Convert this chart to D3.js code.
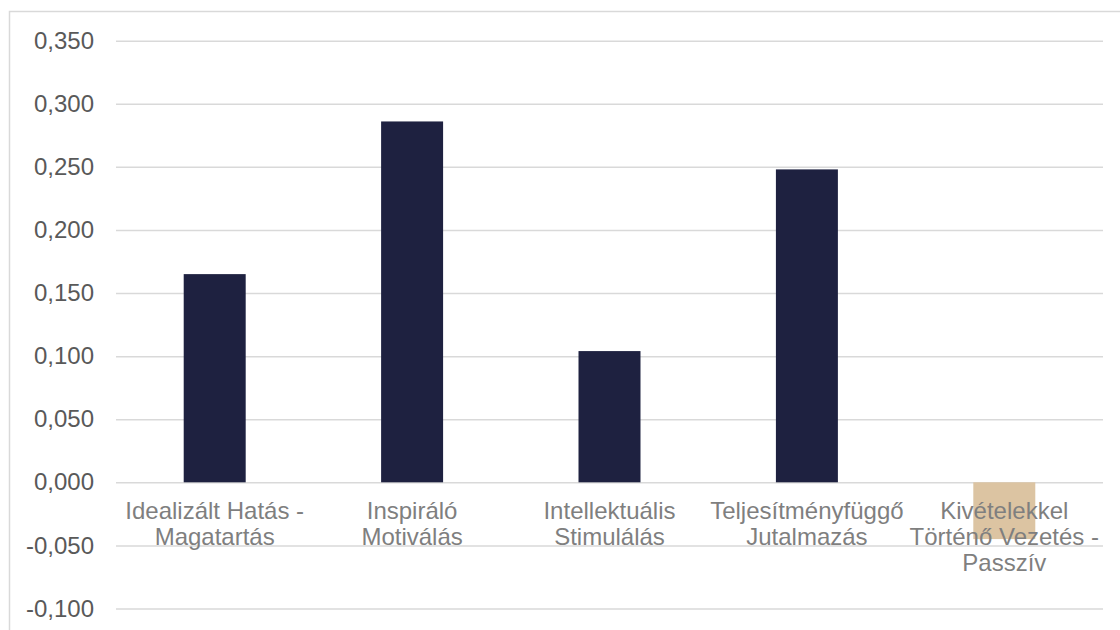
<!DOCTYPE html>
<html>
<head>
<meta charset="utf-8">
<script src="https://cdn.jsdelivr.net/npm/d3@7"></script>
<style>
  html, body { margin: 0; padding: 0; background: #ffffff; }
  svg { display: block; font-family: "Liberation Sans", Arial, sans-serif; }
</style>
</head>
<body>
<svg id="chart" width="1120" height="630"></svg>
<script>
const categories = [
  "Idealizált Hatás - Magatartás",
  "Inspiráló Motiválás",
  "Intellektuális Stimulálás",
  "Teljesítményfüggő Jutalmazás",
  "Kivételekkel Történő Vezetés - Passzív"
];
const labelLines = [
  ["Idealizált Hatás -", "Magatartás"],
  ["Inspiráló", "Motiválás"],
  ["Intellektuális", "Stimulálás"],
  ["Teljesítményfüggő", "Jutalmazás"],
  ["Kivételekkel", "Történő Vezetés -", "Passzív"]
];
const values = [0.165, 0.286, 0.104, 0.248, -0.045];
const barColors = ["#1e2140", "#1e2140", "#1e2140", "#1e2140", "#dcc4a2"];
const yTicks = [-0.1, -0.05, 0, 0.05, 0.1, 0.15, 0.2, 0.25, 0.3, 0.35];

const svg = d3.select("#chart");

// outer chart border
svg.append("rect")
  .attr("x", 9.5).attr("y", 11.5)
  .attr("width", 1130).attr("height", 640)
  .attr("fill", "none").attr("stroke", "#d9d9d9").attr("stroke-width", 1.5);

const left = 116, right = 1103;
const y = d3.scaleLinear().domain([0, 0.35]).range([482.3, 40.7]);
const x = d3.scaleBand().domain(categories).range([left, right])
  .paddingInner(0.686).paddingOuter(0.343);

const fmt = v => d3.format(".3f")(v).replace("−", "-").replace(".", ",");

// grid
const yAxis = d3.axisLeft(y).tickValues(yTicks).tickSize(-(right - left)).tickFormat(fmt).tickPadding(22);
const gy = svg.append("g").attr("transform", `translate(${left},0)`).call(yAxis);
gy.select(".domain").remove();
gy.selectAll(".tick line").attr("stroke", "#d9d9d9").attr("stroke-width", 1.5);
gy.selectAll(".tick text")
  .attr("fill", "#595959")
  .style("font-size", "24px")
  .style("font-family", "'Liberation Sans', Arial, sans-serif");

// bars
svg.append("g").selectAll("rect").data(values).join("rect")
  .attr("x", (d, i) => x(categories[i]))
  .attr("width", x.bandwidth())
  .attr("y", d => y(Math.max(0, d)))
  .attr("height", d => Math.abs(y(d) - y(0)))
  .attr("fill", (d, i) => barColors[i]);

// category labels
const xl = svg.append("g");
labelLines.forEach((lines, i) => {
  const t = xl.append("text")
    .attr("x", x(categories[i]) + x.bandwidth() / 2)
    .attr("y", y(0) + 37)
    .attr("text-anchor", "middle")
    .attr("fill", "#7f7f7f")
    .style("font-size", "24px");
  lines.forEach((ln, j) => {
    t.append("tspan")
      .attr("x", x(categories[i]) + x.bandwidth() / 2)
      .attr("dy", j === 0 ? 0 : 26)
      .text(ln);
  });
});
</script>
</body>
</html>
